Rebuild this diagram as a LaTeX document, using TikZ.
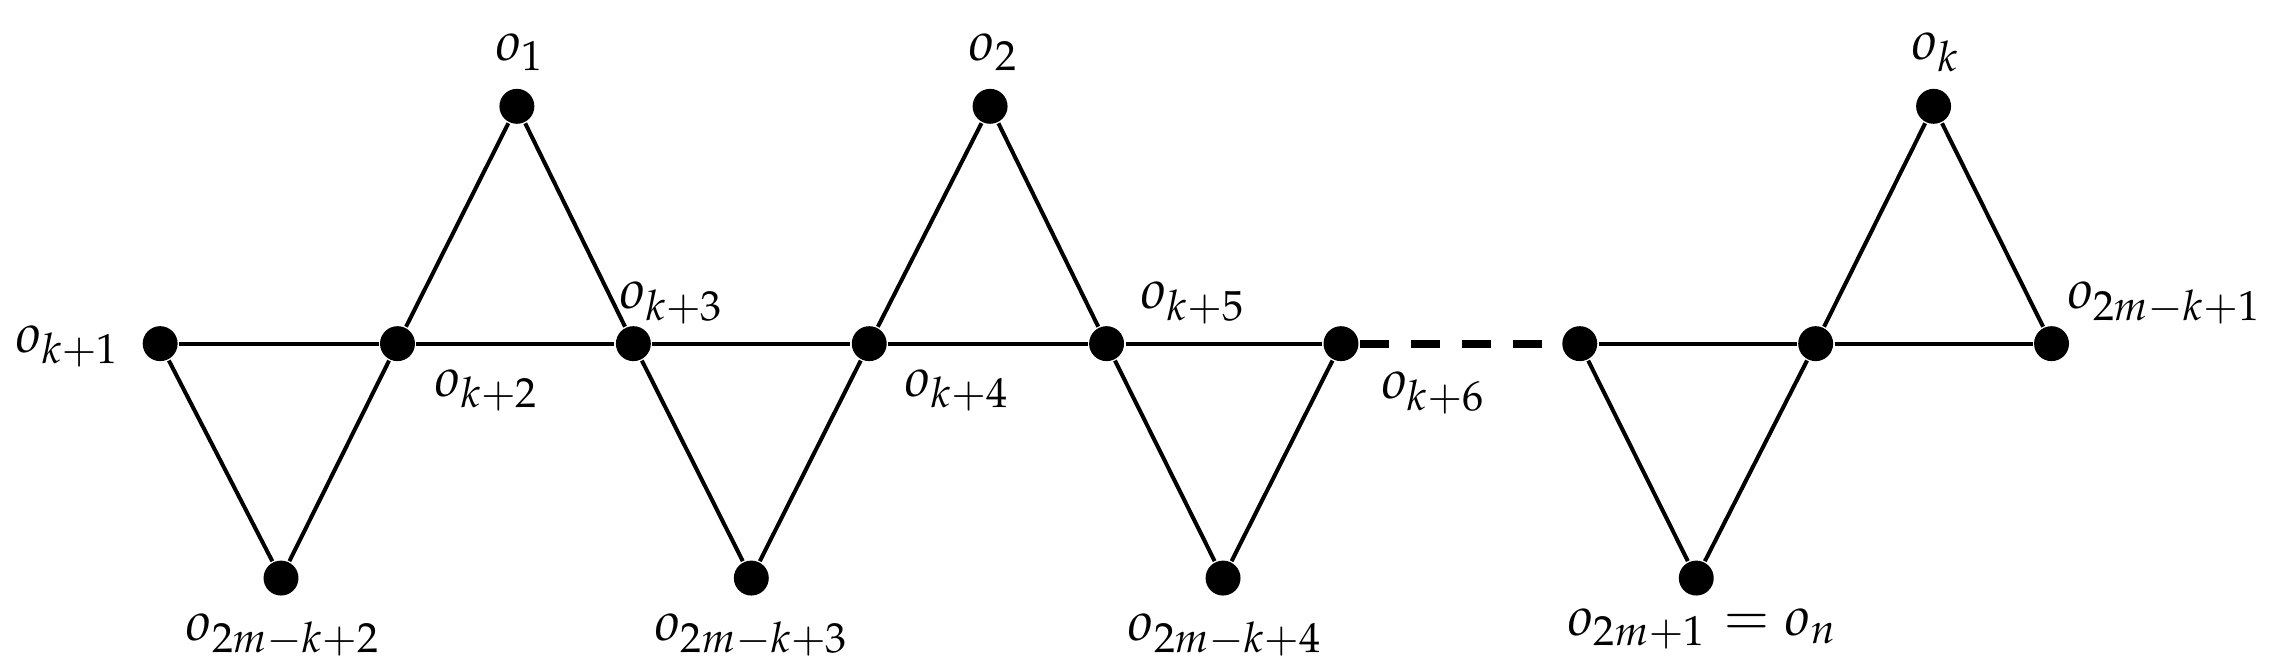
\documentclass[tikz,border=0pt]{standalone}
\usepackage{mathpazo}
\begin{document}
\begin{tikzpicture}[x=0.2pt,y=-0.2pt,
  v/.style={circle,fill=black,inner sep=0pt,minimum size=4.8pt},
  e/.style={line width=0.55pt},
  lab/.style={inner sep=0pt,font=\fontsize{7.6}{9}\selectfont}]
\useasboundingbox (0,0) rectangle (1568,459);
\foreach \n/\x/\y in {a/110/236,b/273/236,c/435/236,d/597/236,f/760/236,g/921/236,h/1085/236,i/1247/236,j/1409/236,
 t1/355/73,t2/680/73,t3/1328/73,b1/193/397,b2/516/397,b3/840/397,b4/1165/397}
  \node[v] (\n) at (\x,\y) {};
\draw[e] (a)--(b)--(c)--(d)--(f)--(g);
\draw[e] (h)--(i)--(j);
\draw[line width=1.1pt,dash pattern=on 4pt off 3pt] (g)--(h);
\draw[e] (b)--(t1)--(c) (d)--(t2)--(f) (i)--(t3)--(j);
\draw[e] (a)--(b1)--(b) (c)--(b2)--(d) (f)--(b3)--(g) (h)--(b4)--(i);
\node[lab] (l1) at (358,36) {$o_1$};
\node[lab] (l2) at (683,36) {$o_2$};
\node[lab] (l3) at (1330,36) {$o_k$};
\node[lab] (l4) at (47,238) {$o_{k+1}$};
\node[lab] (l5) at (335,268) {$o_{k+2}$};
\node[lab] (l6) at (462,208) {$o_{k+3}$};
\node[lab] (l7) at (658,268) {$o_{k+4}$};
\node[lab] (l8) at (820,208) {$o_{k+5}$};
\node[lab] (l9) at (985,270) {$o_{k+6}$};
\node[lab] (l10) at (1487,208) {$o_{2m-k+1}$};
\node[lab] (l11) at (195,436) {$o_{2m-k+2}$};
\node[lab] (l12) at (517,436) {$o_{2m-k+3}$};
\node[lab] (l13) at (842,436) {$o_{2m-k+4}$};
\node[lab] (l14) at (1170,432) {$o_{2m+1}=o_n$};
\end{tikzpicture}
\end{document}
